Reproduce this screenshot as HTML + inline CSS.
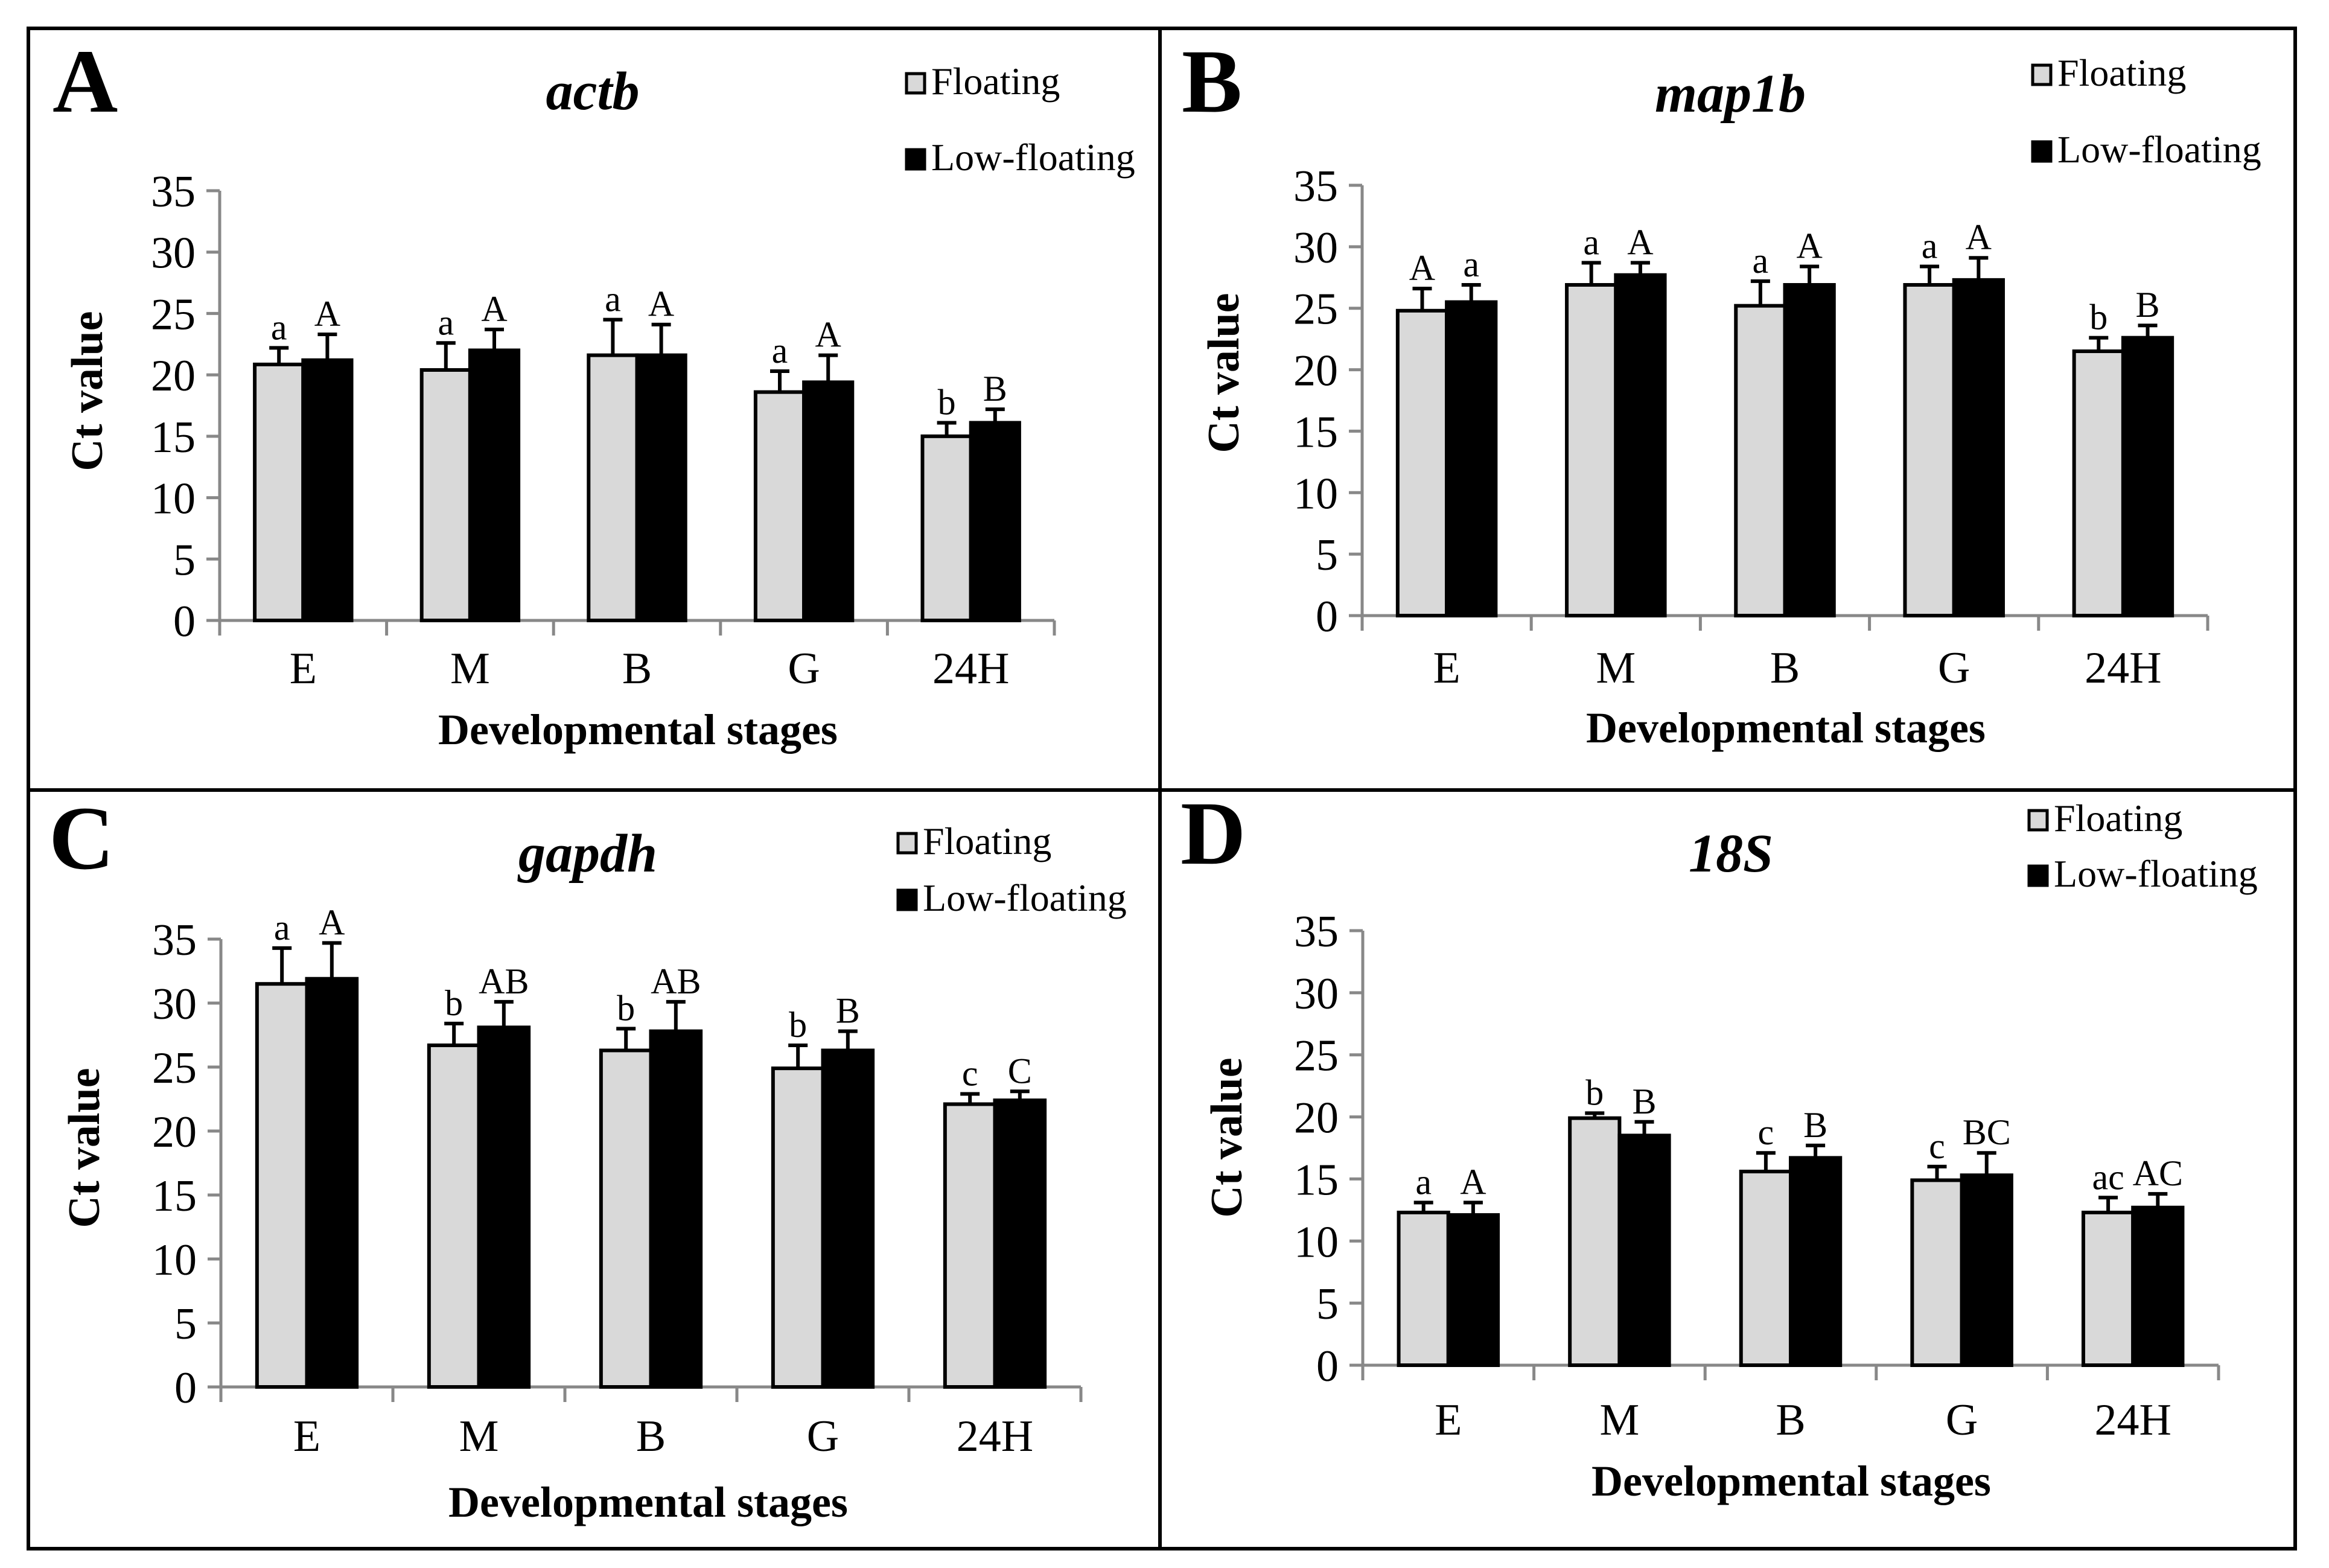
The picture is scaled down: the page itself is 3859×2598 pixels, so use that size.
<!DOCTYPE html>
<html><head><meta charset="utf-8"><style>
html,body{margin:0;padding:0;background:#fff}
svg{display:block}
text{font-family:"Liberation Serif","Times New Roman",Times,serif}
</style></head><body>
<svg id="fig" xmlns="http://www.w3.org/2000/svg" width="3859" height="2598" viewBox="0 0 3859 2598" font-family="Liberation Serif, Times New Roman, Times, serif">
<rect x="0" y="0" width="3859" height="2598" fill="#fff"/>
<rect x="47" y="47" width="3756" height="2519" fill="none" stroke="#000" stroke-width="6"/>
<line x1="1922" y1="47" x2="1922" y2="2566" stroke="#000" stroke-width="6"/>
<line x1="47" y1="1309" x2="3803" y2="1309" stroke="#000" stroke-width="6"/>
</svg>
<script>
const categories = ["E","M","B","G","24H"];
const yTicks = [0,5,10,15,20,25,30,35];
const actbFloat = [20.85,20.4,21.6,18.6,15.0];
const actbFloatErr = [22.2,22.6,24.5,20.3,16.1];
const actbLow = [21.2,22.0,21.6,19.4,16.1];
const actbLowErr = [23.3,23.7,24.1,21.6,17.2];
const actbFloatLbl = ["a","a","a","a","b"];
const actbLowLbl = ["A","A","A","A","B"];
const map1bFloat = [24.8,26.9,25.2,26.9,21.5];
const map1bFloatErr = [26.6,28.7,27.2,28.4,22.6];
const map1bLow = [25.5,27.7,26.9,27.3,22.6];
const map1bLowErr = [26.9,28.7,28.4,29.1,23.6];
const map1bFloatLbl = ["A","a","a","a","b"];
const map1bLowLbl = ["a","A","A","A","B"];
const gapdhFloat = [31.5,26.7,26.3,24.9,22.1];
const gapdhFloatErr = [34.3,28.4,28.0,26.7,22.9];
const gapdhLow = [31.9,28.1,27.8,26.3,22.4];
const gapdhLowErr = [34.7,30.1,30.1,27.8,23.1];
const gapdhFloatLbl = ["a","b","b","b","c"];
const gapdhLowLbl = ["A","AB","AB","B","C"];
const s18Float = [12.3,19.9,15.6,14.9,12.3];
const s18FloatErr = [13.1,20.3,17.1,16.0,13.5];
const s18Low = [12.1,18.5,16.7,15.3,12.7];
const s18LowErr = [13.1,19.6,17.7,17.1,13.8];
const s18FloatLbl = ["a","b","c","c","ac"];
const s18LowLbl = ["A","B","B","BC","AC"];

const NS="http://www.w3.org/2000/svg";
const svg=document.getElementById('fig');
function el(tag,attrs,parent,txt){const e=document.createElementNS(NS,tag);for(const k in attrs)e.setAttribute(k,attrs[k]);if(txt!==undefined)e.textContent=txt;(parent||svg).appendChild(e);return e;}

const panels=[
 {id:'a',letter:'A',title:'actb',ax:364,xEnd:1747,y0:1028,y35:316,lx:87,lb:185,tx:982,tb:181,legX:1499,legB1:156,legB2:282,ctx:143,cty:648,catB:1132,xtx:1057,xtb:1233,f:actbFloat,fe:actbFloatErr,l:actbLow,le:actbLowErr,fl:actbFloatLbl,ll:actbLowLbl},
 {id:'b',letter:'B',title:'map1b',ax:2257,xEnd:3658,y0:1020,y35:307,lx:1958,lb:185,tx:2867,tb:185,legX:3365,legB1:142,legB2:269,ctx:2026,cty:618,catB:1131,xtx:2959,xtb:1230,f:map1bFloat,fe:map1bFloatErr,l:map1bLow,le:map1bLowErr,fl:map1bFloatLbl,ll:map1bLowLbl},
 {id:'c',letter:'C',title:'gapdh',ax:366,xEnd:1791,y0:2298,y35:1556,lx:81,lb:1439,tx:974,tb:1444,legX:1485,legB1:1415,legB2:1509,ctx:138,cty:1902,catB:2404,xtx:1074,xtb:2513,f:gapdhFloat,fe:gapdhFloatErr,l:gapdhLow,le:gapdhLowErr,fl:gapdhFloatLbl,ll:gapdhLowLbl},
 {id:'d',letter:'D',title:'18S',ax:2258,xEnd:3676,y0:2262,y35:1542,lx:1956,lb:1431,tx:2868,tb:1444,legX:3359,legB1:1377,legB2:1469,ctx:2031,cty:1885,catB:2377,xtx:2968,xtb:2478,f:s18Float,fe:s18FloatErr,l:s18Low,le:s18LowErr,fl:s18FloatLbl,ll:s18LowLbl}
];

panels.forEach(p=>{
 const g=el('g',{});
 
 
 const ys=v=>p.y0+(p.y35-p.y0)*v/35;
 const W=(p.xEnd-p.ax)/categories.length;
 const xS=i=>p.ax+W*i;
 const grey='#888';
 const t1=el('text',{x:p.lx,y:p.lb,'font-size':150,'font-weight':'bold'},g,p.letter);
 
 
 const t2=el('text',{x:p.tx,y:p.tb,'font-size':90,'font-weight':'bold','font-style':'italic','text-anchor':'middle'},g,p.title);
 
 
 const lg=el('g',{},g);
 
 
 const s1=el('rect',{x:p.legX+3,y:p.legB1-34,width:30,height:32,fill:'#d9d9d9',stroke:'#000','stroke-width':5},lg);
 
 
 const e1=el('text',{x:p.legX+44,y:p.legB1,'font-size':64},lg,'Floating');
 
 
 const s2=el('rect',{x:p.legX+3,y:p.legB2-34,width:30,height:32,fill:'#000',stroke:'#000','stroke-width':5},lg);
 
 
 const e2=el('text',{x:p.legX+44,y:p.legB2,'font-size':64},lg,'Low-floating');
 
 
 const ya=el('line',{x1:p.ax,y1:ys(35),x2:p.ax,y2:p.y0,stroke:grey,'stroke-width':5},g);
 
 
 yTicks.forEach(v=>{
  el('line',{x1:p.ax-22,y1:ys(v),x2:p.ax,y2:ys(v),stroke:grey,'stroke-width':5},g);
  const tl=el('text',{x:p.ax-40,y:ys(v)+26,'font-size':74,'text-anchor':'end'},g,String(v));
  
  
 });
 const ct=el('text',{x:0,y:0,'font-size':74,'font-weight':'bold','text-anchor':'middle',transform:`translate(${p.ctx+26},${p.cty}) rotate(-90)`},g,'Ct value');
 
 
 const xa=el('line',{x1:p.ax,y1:p.y0,x2:p.xEnd,y2:p.y0,stroke:grey,'stroke-width':5},g);
 
 
 for(let i=0;i<=categories.length;i++){
  el('line',{x1:xS(i),y1:p.y0,x2:xS(i),y2:p.y0+25,stroke:grey,'stroke-width':5},g);
 }
 categories.forEach((c,i)=>{
  const cl=el('text',{x:xS(i)+W/2,y:p.catB,'font-size':74,'text-anchor':'middle'},g,c);
  
  
  const bw=W*0.29, fx=xS(i)+W*0.21, lx=fx+bw;
  const series=[[fx,p.f[i],p.fe[i],p.fl[i],'#d9d9d9','floating'],[lx,p.l[i],p.le[i],p.ll[i],'#000','low-floating']];
  series.forEach(([bx,v,e,lab,fill,nm])=>{
   const cx=bx+bw/2;
   el('line',{x1:cx,y1:ys(v),x2:cx,y2:ys(e),stroke:'#000','stroke-width':6},g);
   el('line',{x1:cx-16,y1:ys(e),x2:cx+16,y2:ys(e),stroke:'#000','stroke-width':6},g);
   const r=el('rect',{x:bx,y:ys(v),width:bw,height:p.y0-ys(v),fill:fill,stroke:'#000','stroke-width':6},g);
   
   
   const an=el('text',{x:cx,y:ys(e)-14,'font-size':60,'text-anchor':'middle'},g,lab);
   
   
  });
 });
 const xt=el('text',{x:p.xtx,y:p.xtb,'font-size':72,'font-weight':'bold','text-anchor':'middle'},g,'Developmental stages');
 
 
});
</script>
</body></html>
